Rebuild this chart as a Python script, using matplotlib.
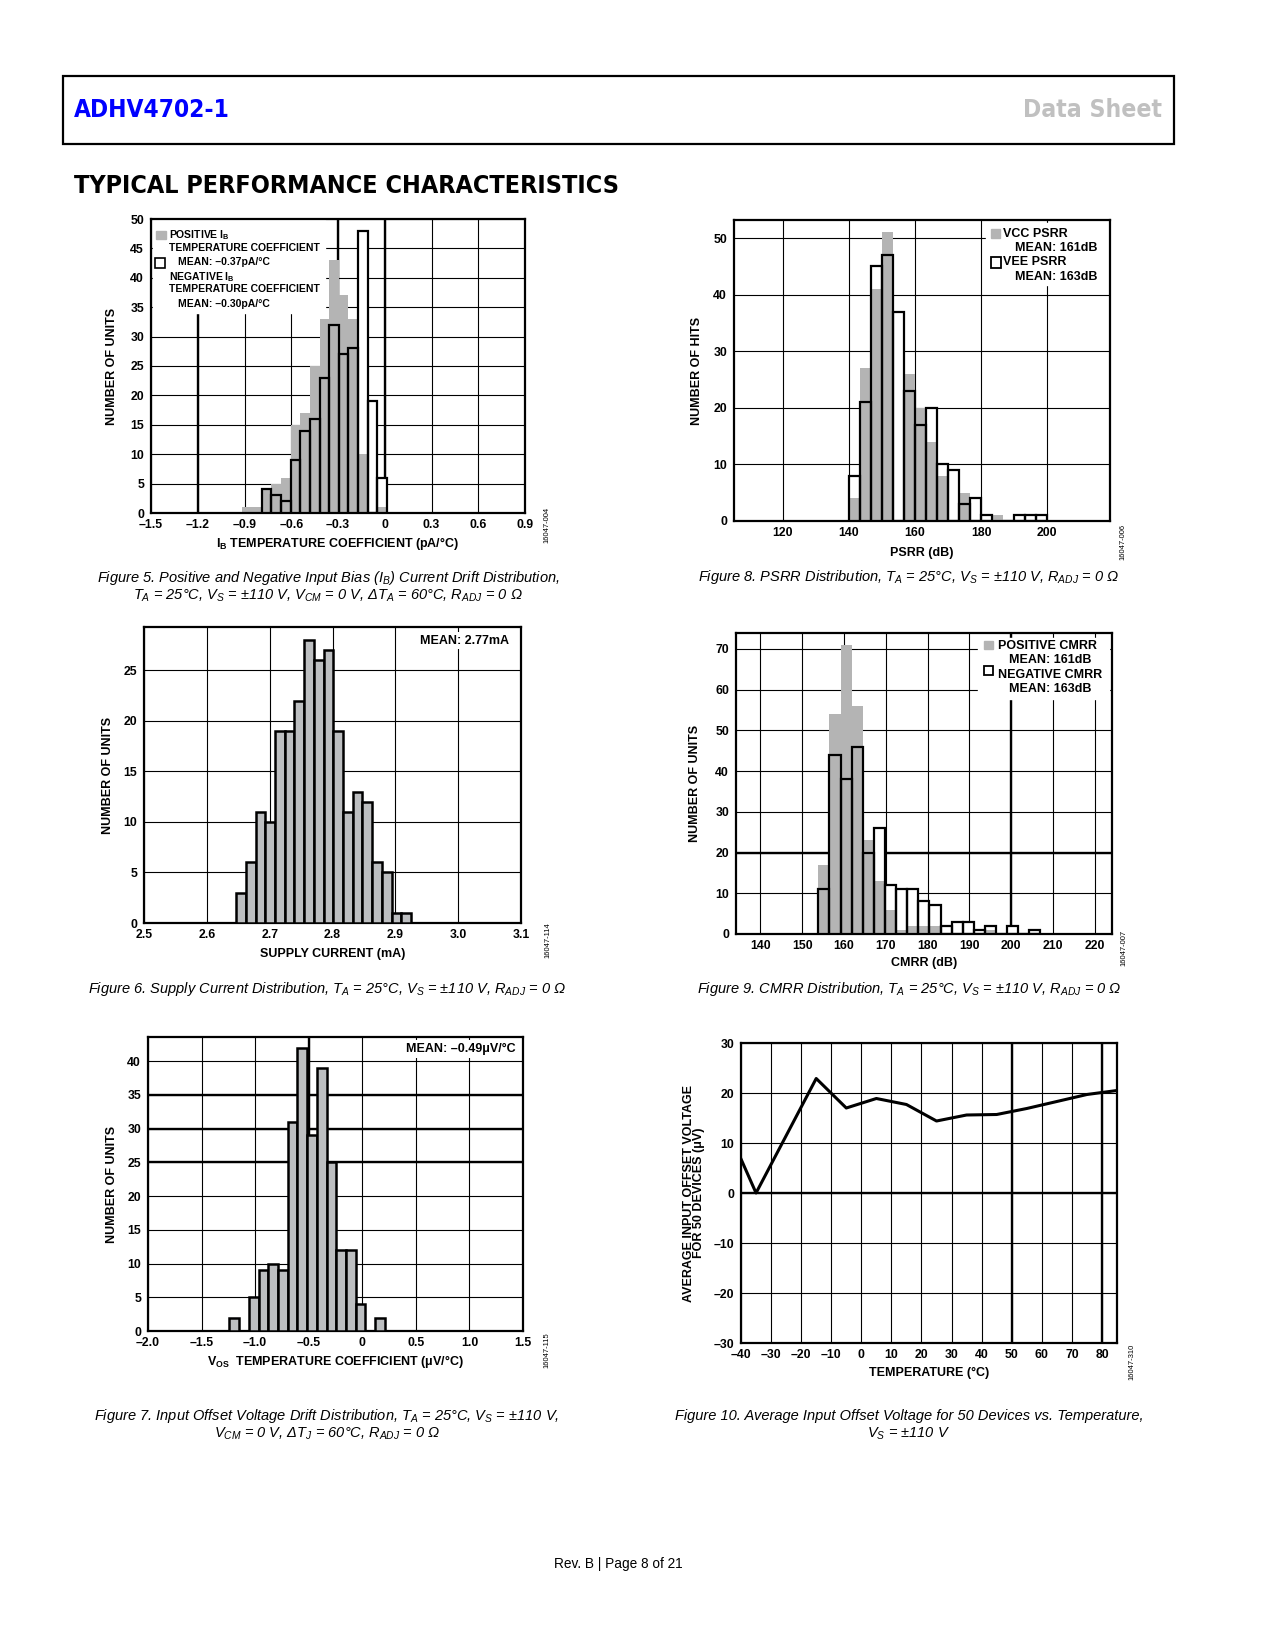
import matplotlib
matplotlib.use('Agg')
import matplotlib.pyplot as plt
from matplotlib import font_manager as fm
from matplotlib.patches import Rectangle
import numpy as np

# ---- values ----
# Figure 5: IB temperature coefficient histogram (pA/C)
ib_edge0 = -0.913
ib_bin = 0.0618
ib_pos_units = [1, 1, 4, 5, 6, 15, 17, 25, 33, 43, 37, 33, 10, 0, 1]
ib_neg_units = [0, 0, 4, 3, 2, 9, 14, 16, 23, 32, 27, 28, 48, 19, 6]

# Figure 8: PSRR histogram (dB)
psrr_edge0 = 140.0
psrr_bin = 10 / 3
vcc_hits = [4, 27, 41, 51, 0, 26, 20, 14, 8, 0, 5, 0, 0, 1, 0, 0, 0, 0]
vee_hits = [8, 21, 45, 47, 37, 23, 17, 20, 10, 9, 3, 4, 1, 0, 0, 1, 1, 1]

# Figure 6: supply current histogram (mA)
isy_edge0 = 2.6466
isy_bin = 0.01547
isy_units = [3, 6, 11, 10, 19, 19, 22, 28, 26, 27, 19, 11, 13, 12, 6, 5, 1, 1]

# Figure 9: CMRR histogram (dB)
cmrr_edge0 = 153.9
cmrr_bin = 2.655
cmrr_pos_units = [17, 54, 71, 56, 23, 13, 6, 1, 2, 2, 2, 0, 0, 0, 0, 1, 0, 0, 0, 0]
cmrr_neg_units = [11, 44, 38, 46, 20, 26, 12, 11, 11, 8, 7, 2, 3, 3, 1, 2, 0, 2, 0, 1]

# Figure 7: VOS drift histogram (uV/C)
vos_edge0 = -1.24
vos_bin = 0.0907
vos_units = [2, 0, 5, 9, 10, 9, 31, 42, 29, 39, 25, 12, 12, 4, 0, 2]

# Figure 10: average VOS vs temperature
temp_c = [-40, -35, -15, -5, 5, 15, 25, 35, 45, 55, 65, 75, 85]
vos_avg_uv = [6.8, 0.0, 22.9, 17.0, 18.9, 17.7, 14.4, 15.6, 15.7, 16.9, 18.3, 19.7, 20.5]

W, H = 1275, 1650
GRAY = '#b4b4b4'
GRAY2 = '#bdbfc1'
CHART_FONT = ['Liberation Sans', 'DejaVu Sans']

plt.rcParams['font.family'] = CHART_FONT
plt.rcParams['font.weight'] = 'bold'
plt.rcParams['axes.labelweight'] = 'bold'
plt.rcParams['mathtext.fontset'] = 'custom'
plt.rcParams['mathtext.rm'] = 'Liberation Sans:normal'
plt.rcParams['mathtext.it'] = 'Liberation Sans:italic:normal'
plt.rcParams['mathtext.bf'] = 'Liberation Sans:bold'

# a condensed bold face for the page headings, if one is installed
head_font = fm.FontProperties(family=CHART_FONT, weight='bold')
for f in fm.fontManager.ttflist:
    if f.weight in (700, 'bold') and f.style == 'normal' and (
            'Narrow' in f.name or 'Condensed' in f.name or 'condensed' in str(f.stretch)):
        head_font = fm.FontProperties(fname=f.fname)
        break

fig = plt.figure(figsize=(W / 100, H / 100), dpi=100)
renderer = fig.canvas.get_renderer()


def fit_width(t, target_px):
    w = t.get_window_extent(renderer).width
    t.set_fontsize(t.get_fontsize() * target_px / w)


def add_ax(box):
    l, t, r, b = box
    return fig.add_axes([l / W, 1 - b / H, (r - l) / W, (b - t) / H])


def tick_text(v, nd):
    if abs(v) < 1e-9:
        return '0'
    return f'{v:.{nd}f}'.replace('-', '–')


def setup(ax, box, xlim, ylim, xticks, xnd, yticks, xlabel, ylabel, xdist, ydist,
          thick_x=(), thick_y=()):
    l, t, r, b = box
    ax.set_xlim(*xlim)
    ax.set_ylim(*ylim)
    ax.set_xticks(xticks)
    ax.set_xticklabels([tick_text(v, xnd) for v in xticks])
    ax.set_yticks(yticks)
    ax.set_yticklabels([tick_text(v, 0) for v in yticks])
    ax.tick_params(length=0, labelsize=8.8)
    ax.tick_params(axis='x', pad=4)
    ax.tick_params(axis='y', pad=5)
    ax.grid(True, color='black', lw=0.8)
    ax.set_axisbelow(True)
    for v in thick_x:
        ax.axvline(v, color='black', lw=1.7, zorder=1)
    for v in thick_y:
        ax.axhline(v, color='black', lw=1.7, zorder=1)
    for s in ax.spines.values():
        s.set_linewidth(1.6)
    ax.set_xlabel(xlabel, fontsize=9, fontweight='bold', va='center')
    ax.set_ylabel(ylabel, fontsize=9, fontweight='bold', va='center')
    ax.xaxis.set_label_coords(0.5, -xdist / (b - t))
    ax.yaxis.set_label_coords(-ydist / (r - l), 0.5)


def bars(ax, edge0, width, counts, **kw):
    x = edge0 + width * np.arange(len(counts))
    return ax.bar(x, counts, width=width, align='edge', **kw)


def chart_id(x, y, s):
    fig.text(x / W, 1 - y / H, s, rotation=90, ha='center', va='center',
             fontsize=5.5, fontweight='normal')


def caption(x, y, s):
    fig.text(x / W, 1 - y / H, s, ha='center', va='center', fontsize=10.5,
             fontweight='normal', style='italic')


# ---- page header ----
fig.add_artist(Rectangle((63 / W, 1 - 144 / H), (1174 - 63) / W, (144 - 76) / H,
                         transform=fig.transFigure, fill=False, lw=1.6, color='black'))
t_part = fig.text(74 / W, 1 - 110 / H, 'ADHV4702-1', color='#0000ff', fontsize=20,
                  fontproperties=head_font, ha='left', va='center')
t_ds = fig.text(1162 / W, 1 - 110 / H, 'Data Sheet', color='#c0c0c0', fontsize=20,
                fontproperties=head_font, ha='right', va='center')
t_sec = fig.text(74 / W, 1 - 186 / H, 'TYPICAL PERFORMANCE CHARACTERISTICS', color='black',
                 fontsize=20, fontproperties=head_font, ha='left', va='center')
fit_width(t_part, 156)
fit_width(t_ds, 139)
fit_width(t_sec, 544)

# ---- Figure 5 ----
box1 = (151, 219, 525, 513)
ax1 = add_ax(box1)
bars(ax1, ib_edge0, ib_bin, ib_neg_units, color='white', lw=0, zorder=2)
bars(ax1, ib_edge0, ib_bin, ib_pos_units, color=GRAY, lw=0, zorder=3)
bars(ax1, ib_edge0, ib_bin, ib_neg_units, fill=False, edgecolor='black', lw=1.6, zorder=4)
setup(ax1, box1, (-1.5, 0.9), (0, 50), np.arange(-1.5, 0.91, 0.3), 1, np.arange(0, 51, 5),
      r'$\mathbf{I_B}$ TEMPERATURE COEFFICIENT (pA/°C)', 'NUMBER OF UNITS', 30, 39,
      thick_x=(-1.2, -0.3, 0))
ax1.add_patch(Rectangle((-1.485, 34.0), 1.1, 15.8, color='white', zorder=1.5))
ax1.add_patch(Rectangle((-1.468, 46.55), 0.062, 1.4, color=GRAY, zorder=5))
ax1.add_patch(Rectangle((-1.474, 41.6), 0.064, 1.7, facecolor='white',
                        edgecolor='black', lw=1.2, zorder=5))
leg1 = [(-1.385, 47.3, r'POSITIVE $\mathbf{I_B}$'),
        (-1.385, 45.1, 'TEMPERATURE COEFFICIENT'),
        (-1.325, 42.75, 'MEAN: –0.37pA/°C'),
        (-1.385, 40.2, r'NEGATIVE $\mathbf{I_B}$'),
        (-1.385, 38.05, 'TEMPERATURE COEFFICIENT'),
        (-1.325, 35.56, 'MEAN: –0.30pA/°C')]
for x, y, s in leg1:
    ax1.text(x, y, s, fontsize=7.5, ha='left', va='center', zorder=6)
chart_id(547, 525, '16047-004')
caption(328, 578, r'Figure 5. Positive and Negative Input Bias ($I_B$) Current Drift Distribution,')
caption(328, 596, r'$T_A$ = 25°C, $V_S$ = ±110 V, $V_{CM}$ = 0 V, Δ$T_A$ = 60°C, $R_{ADJ}$ = 0 Ω')

# ---- Figure 8 ----
box2 = (734, 220, 1110, 521)
ax2 = add_ax(box2)
bars(ax2, psrr_edge0, psrr_bin, vee_hits, color='white', lw=0, zorder=2)
bars(ax2, psrr_edge0, psrr_bin, vcc_hits, color=GRAY, lw=0, zorder=3)
bars(ax2, psrr_edge0, psrr_bin, vee_hits, fill=False, edgecolor='black', lw=1.6, zorder=4)
setup(ax2, box2, (105.2, 219), (0, 53.2), np.arange(120, 201, 20), 0, np.arange(0, 51, 10),
      'PSRR (dB)', 'NUMBER OF HITS', 32, 37)
ax2.add_patch(Rectangle((181.6, 41.7), 36.9, 10.9, color='white', zorder=1.5))
ax2.add_patch(Rectangle((183.1, 50.0), 2.6, 1.65, color=GRAY, zorder=5))
ax2.add_patch(Rectangle((182.9, 44.7), 3.0, 1.9, facecolor='white',
                        edgecolor='black', lw=1.3, zorder=5))
for x, y, s in [(186.7, 50.8, 'VCC PSRR'), (190.2, 48.2, 'MEAN: 161dB'),
                (186.7, 45.7, 'VEE PSRR'), (190.2, 43.2, 'MEAN: 163dB')]:
    ax2.text(x, y, s, fontsize=9, ha='left', va='center', zorder=6)
chart_id(1123, 542, '16047-006')
caption(909, 577, r'Figure 8. PSRR Distribution, $T_A$ = 25°C, $V_S$ = ±110 V, $R_{ADJ}$ = 0 Ω')

# ---- Figure 6 ----
box3 = (144, 627, 521, 923)
ax3 = add_ax(box3)
bars(ax3, isy_edge0, isy_bin, isy_units, facecolor=GRAY2, edgecolor='black', lw=1.8, zorder=3)
setup(ax3, box3, (2.5, 3.1), (0, 29.3), np.arange(2.5, 3.11, 0.1), 1, np.arange(0, 26, 5),
      'SUPPLY CURRENT (mA)', 'NUMBER OF UNITS', 31, 36)
ax3.text(3.0815, 27.96, 'MEAN: 2.77mA', fontsize=9, ha='right', va='center', zorder=6,
         bbox=dict(fc='white', ec='none', pad=2))
chart_id(548, 940, '16047-114')
caption(327, 989, r'Figure 6. Supply Current Distribution, $T_A$ = 25°C, $V_S$ = ±110 V, $R_{ADJ}$ = 0 Ω')

# ---- Figure 9 ----
box4 = (736, 633, 1112, 934)
ax4 = add_ax(box4)
bars(ax4, cmrr_edge0, cmrr_bin, cmrr_neg_units, color='white', lw=0, zorder=2)
bars(ax4, cmrr_edge0, cmrr_bin, cmrr_pos_units, color=GRAY, lw=0, zorder=3)
bars(ax4, cmrr_edge0, cmrr_bin, cmrr_neg_units, fill=False, edgecolor='black', lw=1.6, zorder=4)
setup(ax4, box4, (134.2, 224.1), (0, 73.9), np.arange(140, 221, 10), 0, np.arange(0, 71, 10),
      'CMRR (dB)', 'NUMBER OF UNITS', 29, 41, thick_x=(200,), thick_y=(20,))
ax4.add_patch(Rectangle((192.1, 57.7), 31.4, 15.0, color='white', zorder=1.5))
ax4.add_patch(Rectangle((193.4, 69.9), 2.2, 2.0, color=GRAY, zorder=5))
ax4.add_patch(Rectangle((193.4, 63.5), 2.2, 2.3, facecolor='white',
                        edgecolor='black', lw=1.3, zorder=5))
for x, y, s in [(196.8, 70.8, 'POSITIVE CMRR'), (199.5, 67.2, 'MEAN: 161dB'),
                (196.8, 63.7, 'NEGATIVE CMRR'), (199.5, 60.2, 'MEAN: 163dB')]:
    ax4.text(x, y, s, fontsize=9, ha='left', va='center', zorder=6)
chart_id(1124, 948, '16047-007')
caption(909, 989, r'Figure 9. CMRR Distribution, $T_A$ = 25°C, $V_S$ = ±110 V, $R_{ADJ}$ = 0 Ω')

# ---- Figure 7 ----
box5 = (148, 1037, 523, 1331)
ax5 = add_ax(box5)
bars(ax5, vos_edge0, vos_bin, vos_units, facecolor=GRAY2, edgecolor='black', lw=1.8, zorder=3)
setup(ax5, box5, (-2.0, 1.5), (0, 43.6), np.arange(-2.0, 1.51, 0.5), 1, np.arange(0, 41, 5),
      r'$\mathbf{V_{OS}}$  TEMPERATURE COEFFICIENT (μV/°C)', 'NUMBER OF UNITS', 31, 36,
      thick_x=(-0.5,), thick_y=(25, 30, 35))
ax5.text(1.428, 41.8, 'MEAN: –0.49μV/°C', fontsize=9, ha='right', va='center', zorder=6,
         bbox=dict(fc='white', ec='none', pad=2))
chart_id(547, 1350, '16047-115')
caption(327, 1416, r'Figure 7. Input Offset Voltage Drift Distribution, $T_A$ = 25°C, $V_S$ = ±110 V,')
caption(327, 1434, r'$V_{CM}$ = 0 V, Δ$T_J$ = 60°C, $R_{ADJ}$ = 0 Ω')

# ---- Figure 10 ----
box6 = (741, 1043, 1117, 1343)
ax6 = add_ax(box6)
ax6.plot(temp_c, vos_avg_uv, color='black', lw=2.2, zorder=3)
setup(ax6, box6, (-40, 85), (-30, 30), np.arange(-40, 81, 10), 0, np.arange(-30, 31, 10),
      'TEMPERATURE (°C)', 'AVERAGE INPUT OFFSET VOLTAGE\nFOR 50 DEVICES (μV)', 30, 47,
      thick_x=(50, 80), thick_y=(0,))
ax6.yaxis.label.set_linespacing(0.85)
chart_id(1132, 1362, '16047-310')
caption(909, 1416, 'Figure 10. Average Input Offset Voltage for 50 Devices vs. Temperature,')
caption(909, 1434, r'$V_S$ = ±110 V')

# ---- footer ----
fig.text(618 / W, 1 - 1564 / H, 'Rev. B | Page 8 of 21', ha='center', va='center',
         fontsize=9.8, fontweight='normal')

fig.savefig('out.png', dpi=100, facecolor='white')
